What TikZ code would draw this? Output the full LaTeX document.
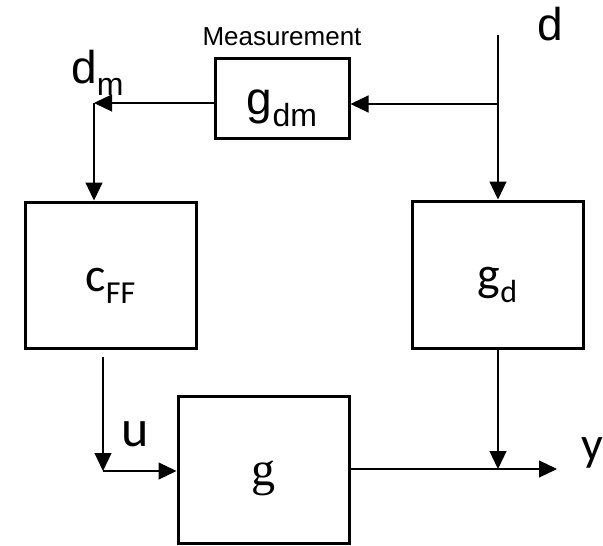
\documentclass[tikz,border=0pt]{standalone}
\usepackage{fontspec}
\setmainfont{Liberation Sans}
\newfontfamily\calfont{Carlito}
\newfontfamily\serfont{Liberation Serif}
\usetikzlibrary{positioning,arrows.meta}
\newcommand{\lowsub}[1]{\raisebox{-12pt}{\fontsize{32pt}{32pt}\selectfont #1}}
\newcommand{\fsz}[1]{\fontsize{#1}{#1}\selectfont}
\tikzset{
  block/.style={draw, line width=3pt, inner sep=0pt, text height=32pt, text depth=0pt},
  signal/.style={line width=1.2pt, -{Triangle[length=18pt 0 0,width=17pt 0 0]}},
  plain/.style={inner sep=0pt},
}

\begin{document}
\begin{tikzpicture}[x=1pt,y=-1pt]
    \useasboundingbox (0,0) rectangle (603,546);
    % blocks
    \node[block, font=\fsz{46pt}, minimum width=134pt, minimum height=80pt] (gdm) at (282,98) {g\lowsub{dm}};
    \node[block, font=\calfont\fsz{48pt}, minimum width=171pt, minimum height=146pt] (cff) at (110.5,275) {c\lowsub{FF}};
    \node[block, font=\calfont\fsz{48pt}, minimum width=171pt, minimum height=147pt] (gd) at (497.5,274.5) {g\lowsub{d}};
    \node[block, font=\serfont\fsz{48pt}, minimum width=171pt, minimum height=147pt] (g) at (263.5,469.5) {g};
    % labels
    \node[plain, font=\fsz{46pt}] (dlab) at (550,24) {d};
    \node[plain, font=\fsz{46pt}, anchor=base west] (dmlab) at (71,83) {d\lowsub{m}};
    \node[plain, font=\fsz{26pt}, above=11pt of gdm] (meas) {Measurement};
    \node[plain, font=\calfont\fsz{52pt}, anchor=base] (ulab) at (135,446) {u};
    \node[plain, font=\calfont\fsz{48pt}, anchor=base west] (ylab) at (581,460) {y};
    % signal points
    \coordinate (dtop) at (498,35);
    \coordinate (dsplit) at (498,104);
    \coordinate (dmpt) at (94,103);
    \coordinate (upt) at (103,471);
    \coordinate (ysum) at (498,469);
    \coordinate (yend) at (557,469);
    % connectors
    \draw[signal] (dtop) -- (dtop |- gd.north);
    \draw[signal] (dsplit) -- (dsplit -| gdm.east);
    \draw[signal] (gdm.west |- dmpt) -- (dmpt);
    \draw[signal] (dmpt) -- (dmpt |- cff.north);
    \draw[signal] ([yshift=-7pt]cff.south -| upt) -- (upt);
    \draw[signal] (upt) -- (upt -| g.west);
    \draw[signal] (ysum |- gd.south) -- (ysum);
    \draw[signal] (g.east |- yend) -- (yend);
\end{tikzpicture}
\end{document}
